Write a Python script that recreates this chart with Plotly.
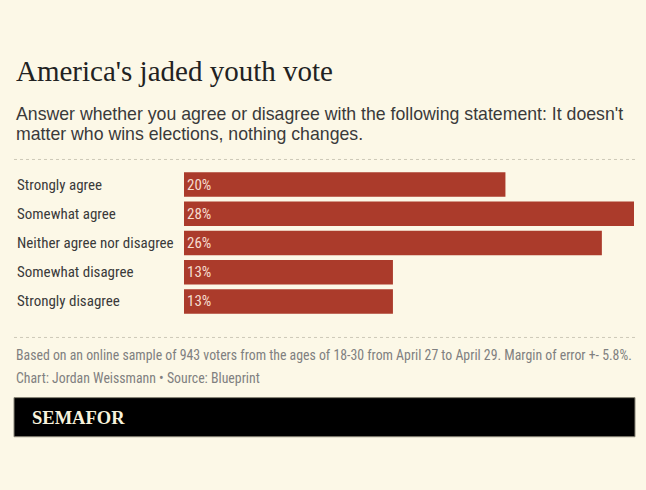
import plotly.graph_objects as go

categories = ["Strongly agree", "Somewhat agree", "Neither agree nor disagree",
              "Somewhat disagree", "Strongly disagree"]
values = [20, 28, 26, 13, 13]

title = "America's jaded youth vote"
subtitle_lines = ["Answer whether you agree or disagree with the following statement: It doesn't",
                  "matter who wins elections, nothing changes."]
note = ("Based on an online sample of 943 voters from the ages of 18-30 from April 27 to "
        "April 29. Margin of error +- 5.8%.")
credit = "Chart: Jordan Weissmann \u2022 Source: Blueprint"
brand = "SEMAFOR"

W, H = 646, 490
L, R = 184, 634
T, B = 170, 315.6

def fx(px):
    return (px - L) / (R - L)

def fy(py):
    return (B - py) / (B - T)

BG = "#fcf8e7"
BAR = "#ab3b2b"
NARROW = "Liberation Sans Narrow, Roboto Condensed, Arial Narrow, Roboto, sans-serif"

fig = go.Figure(go.Bar(
    x=values, y=categories, orientation="h",
    marker=dict(color=BAR, line=dict(width=0)),
    texttemplate="%{x}%", textposition="inside", insidetextanchor="start",
    textfont=dict(family=NARROW, size=15, color="#f6dccf"),
    hoverinfo="skip",
))

fig.update_layout(
    width=W, height=H, autosize=False,
    margin=dict(l=L, r=W - R, t=T, b=H - B, pad=0),
    paper_bgcolor=BG, plot_bgcolor=BG,
    bargap=0.16, showlegend=False,
    xaxis=dict(range=[0, 28], visible=False, fixedrange=True),
    yaxis=dict(autorange="reversed", showticklabels=False, showgrid=False,
               zeroline=False, fixedrange=True),
    uniformtext=dict(minsize=15, mode="show"),
)

ann = []
for c in categories:
    ann.append(dict(text=c, x=fx(15), y=c, xref="paper", yref="y",
                    xanchor="left", yanchor="middle", showarrow=False,
                    font=dict(family=NARROW, size=15, color="#3a3a3a")))

ann.append(dict(text=title, x=fx(14), y=fy(71.5), xref="paper", yref="paper",
                xanchor="left", yanchor="middle", showarrow=False,
                font=dict(family="Liberation Serif, serif", size=29, color="#222222")))
for i, line in enumerate(subtitle_lines):
    ann.append(dict(text=line, x=fx(14), y=fy(114.3 + 19.8 * i), xref="paper", yref="paper",
                    xanchor="left", yanchor="middle", align="left", showarrow=False,
                    font=dict(family="Liberation Sans, Arial, sans-serif", size=17.7,
                              color="#3a3a3a")))
ann.append(dict(text=note, x=fx(14), y=fy(354), xref="paper", yref="paper",
                xanchor="left", yanchor="middle", showarrow=False,
                font=dict(family=NARROW, size=13.8, color="#808080")))
ann.append(dict(text=credit, x=fx(14), y=fy(377), xref="paper", yref="paper",
                xanchor="left", yanchor="middle", showarrow=False,
                font=dict(family=NARROW, size=13.8, color="#808080")))
ann.append(dict(text="<b>" + brand + "</b>", x=fx(30), y=fy(417), xref="paper", yref="paper",
                xanchor="left", yanchor="middle", showarrow=False,
                font=dict(family="Liberation Serif, serif", size=18.5, color="#f7f2dc")))
fig.update_layout(annotations=ann)

shapes = [
    dict(type="line", xref="paper", yref="paper", x0=fx(14), x1=fx(635), y0=fy(159.5), y1=fy(159.5),
         line=dict(color="#cdc9b8", width=1, dash="dot")),
    dict(type="line", xref="paper", yref="paper", x0=fx(14), x1=fx(635), y0=fy(337), y1=fy(337),
         line=dict(color="#cdc9b8", width=1, dash="dot")),
    dict(type="rect", xref="paper", yref="paper", x0=fx(14), x1=fx(635), y0=fy(436), y1=fy(397),
         fillcolor="#000000", line=dict(color="#8a8678", width=1), layer="below"),
]
fig.update_layout(shapes=shapes)

fig.write_html(
    "out.html",
    config={"displayModeBar": False, "staticPlot": True},
    post_script="document.body.style.margin='0';document.body.style.background='" + BG + "';",
)
